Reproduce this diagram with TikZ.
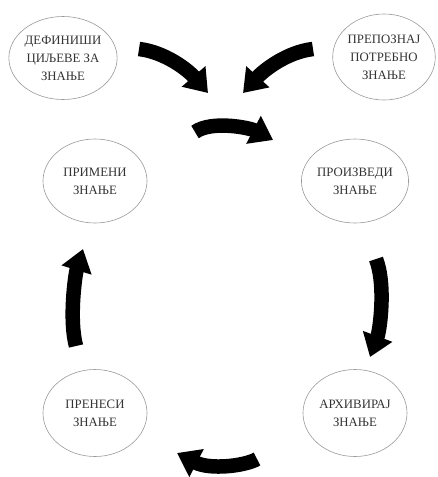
\documentclass[tikz,border=0pt]{standalone}
\usepackage{fontspec}
\setmainfont{Liberation Serif}
\usetikzlibrary{shapes.geometric,arrows.meta}
\tikzset{
  stage/.style={ellipse, draw=gray!80, line width=0.6pt, inner sep=0pt,
    minimum width=104pt, minimum height=84pt, align=center,
    text=black!80, font=\fontsize{12.8}{18}\selectfont},
  flow/.style={line width=14.5pt, draw=black,
    -{Triangle[width=30pt,length=22pt]}}
}
\begin{document}
\begin{tikzpicture}[x=1pt,y=-1pt]
\useasboundingbox (0,0) rectangle (437,477);
\node[stage, minimum width=100pt, minimum height=83pt] (def) at (63,58) {ДЕФИНИШИ\\ЦИЉЕВЕ ЗА\\ЗНАЊЕ};
\node[stage, minimum width=102pt, minimum height=86pt] (rec) at (384,57) {ПРЕПОЗНАЈ\\ПОТРЕБНО\\ЗНАЊЕ};
\node[stage] (app) at (95,181) {ПРИМЕНИ\\ЗНАЊЕ};
\node[stage] (pro) at (355,181) {ПРОИЗВЕДИ\\ЗНАЊЕ};
\node[stage, minimum height=87pt] (tra) at (95,413) {ПРЕНЕСИ\\ЗНАЊЕ};
\node[stage, minimum height=87pt] (arc) at (355,413) {АРХИВИРАЈ\\ЗНАЊЕ};
% free arrow end points
\coordinate (a1s) at (139,49);  \coordinate (a1e) at (208,93);
\coordinate (a2s) at (313,49);  \coordinate (a2e) at (243,93);
\coordinate (a3s) at (195,132); \coordinate (a3e) at (273,140);
\coordinate (a4s) at (376,259); \coordinate (a4e) at (370,357);
\coordinate (a5s) at (257,459); \coordinate (a5e) at (177,453);
\coordinate (a6s) at (76,346);  \coordinate (a6e) at (83,249);
\draw[flow] (a1s) .. controls (165,52) and (188,70) .. (a1e);
\draw[flow] (a2s) .. controls (287,52) and (264,70) .. (a2e);
\draw[flow] (a3s) .. controls (212,120) and (250,128) .. (a3e);
\draw[flow] (a4s) .. controls (386,285) and (380,330) .. (a4e);
\draw[flow] (a5s) .. controls (245,466) and (210,470) .. (a5e);
\draw[flow] (a6s) .. controls (69,320) and (75,275) .. (a6e);
\end{tikzpicture}
\end{document}
